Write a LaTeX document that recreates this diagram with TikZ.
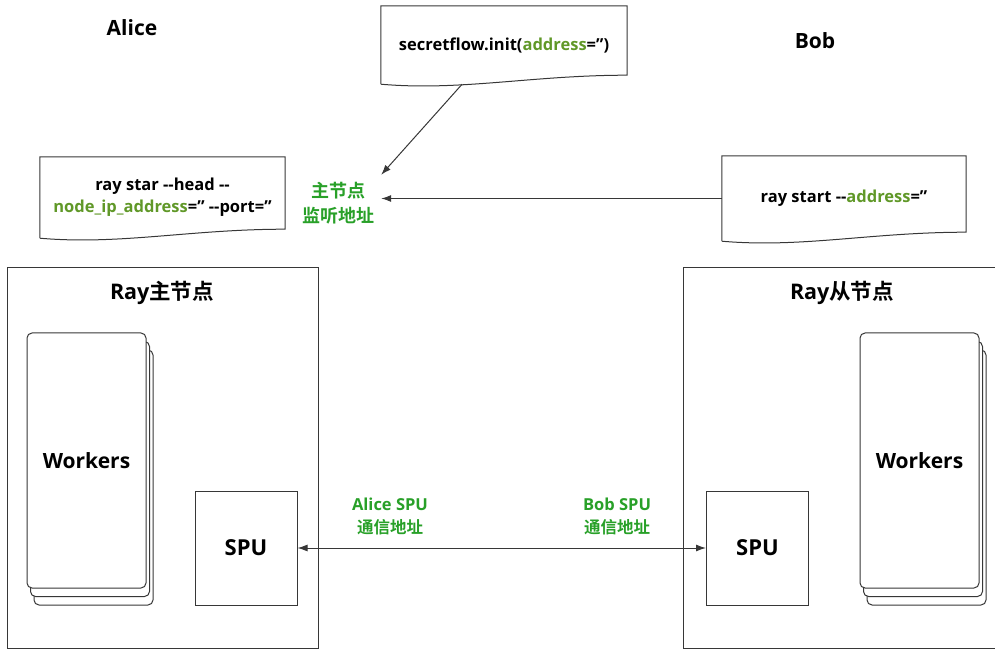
\documentclass[tikz,border=0pt]{standalone}
\usepackage{fontspec}
\setmainfont{Open Sans}
\newfontfamily\cjk{Noto Sans CJK SC}[BoldFont={Noto Sans CJK SC Bold}]
\usepackage{xcolor}
\usetikzlibrary{arrows.meta,calc,positioning}
\definecolor{lblgreen}{RGB}{40,160,40}
\definecolor{codegreen}{RGB}{96,152,40}
\definecolor{linegray}{RGB}{55,55,55}
\newcommand{\addr}[1]{{\color{codegreen}#1}}
\newcommand{\docframe}[1]{%
  \draw[linegray,line width=1pt] (#1.south west) -- (#1.north west) -- (#1.north east) -- ($(#1.south east)+(0,9)$)
    .. controls ($(#1.south east)+(-95,9)$) and ($(#1.south west)+(80,-7)$) .. (#1.south west);}
\tikzset{
  party/.style={font=\bfseries\fontsize{21}{24}\selectfont},
  doc/.style={font=\bfseries\fontsize{16.5}{22}\selectfont,align=center,inner sep=0pt},
  tag/.style={font=\bfseries\fontsize{16.5}{23}\selectfont,text=lblgreen,align=center,inner sep=9pt},
  frame/.style={draw=linegray,line width=1pt,inner sep=0pt},
  card/.style={draw=linegray,line width=1pt,rounded corners=5pt,fill=white,minimum width=119,minimum height=255,font=\bfseries\fontsize{21}{24}\selectfont},
  arrow/.style={linegray,line width=1pt,-{Latex[length=10pt,width=7pt]}}
}
\begin{document}
\begin{tikzpicture}[x=1pt,y=1pt]
  \useasboundingbox (0,0) rectangle (995,651);
  \clip (0,0) rectangle (995,651);
  \node[party] (alice) at (132,623) {Alice};
  \node[party] (bob) at (815,610) {Bob};

  \node[doc,minimum width=246,minimum height=78] (init) at (504,606) {secretflow.init(\addr{address}='')};
  \docframe{init}
  \node[doc,minimum width=245,minimum height=81] (head) at (162.5,453.5) {ray star -{}-head -{}-\\\addr{node\_ip\_address}='' -{}-port=''};
  \docframe{head}
  \node[doc,minimum width=244,minimum height=85] (join) at (844,452.5) {ray start -{}-\addr{address}=''};
  \docframe{join}
  \node[tag,font=\bfseries\fontsize{18}{25}\selectfont,inner sep=7pt] (listen) at (338,448) {{\cjk 主节点}\\{\cjk 监听地址}};
  \draw[arrow] ($(init.south west)!0.33!(init.south east)$) -- (listen.north east);
  \draw[arrow] (join.west) -- (join.west -| listen.east);

  \node[frame,minimum width=311,minimum height=380] (headnode) at (162.5,193) {};
  \node[font=\bfseries\fontsize{21.5}{24}\selectfont] (headtitle) at (162,358) {Ray{\cjk 主节点}};
  \node[frame,minimum width=330,minimum height=380] (worknode) at (848,193) {};
  \node[font=\bfseries\fontsize{21.5}{24}\selectfont] (worktitle) at (842,358) {Ray{\cjk 从节点}};

  \foreach \k in {2,1}
    \node[card] (wA\k) at (86.5+3.5*\k,190.5-8.5*\k) {};
  \node[card] (wA) at (86.5,190.5) {Workers};
  \foreach \k in {2,1}
    \node[card] (wB\k) at (919.5+3.5*\k,190.5-8.5*\k) {};
  \node[card] (wB) at (919.5,190.5) {Workers};

  \node[frame,minimum width=102,minimum height=114,font=\bfseries\fontsize{22}{24}\selectfont] (spuA) at (246,103) {SPU};
  \node[frame,minimum width=102,minimum height=114,font=\bfseries\fontsize{22}{24}\selectfont] (spuB) at (757.5,103) {SPU};
  \draw[arrow,{Latex[length=10pt,width=7pt]}-{Latex[length=10pt,width=7pt]}] (spuA.east) -- (spuB.west);
  \node[tag] (addrA) at (390,135) {Alice SPU\\{\cjk 通信地址}};
  \node[tag] (addrB) at (617,135) {Bob SPU\\{\cjk 通信地址}};
\end{tikzpicture}
\end{document}
